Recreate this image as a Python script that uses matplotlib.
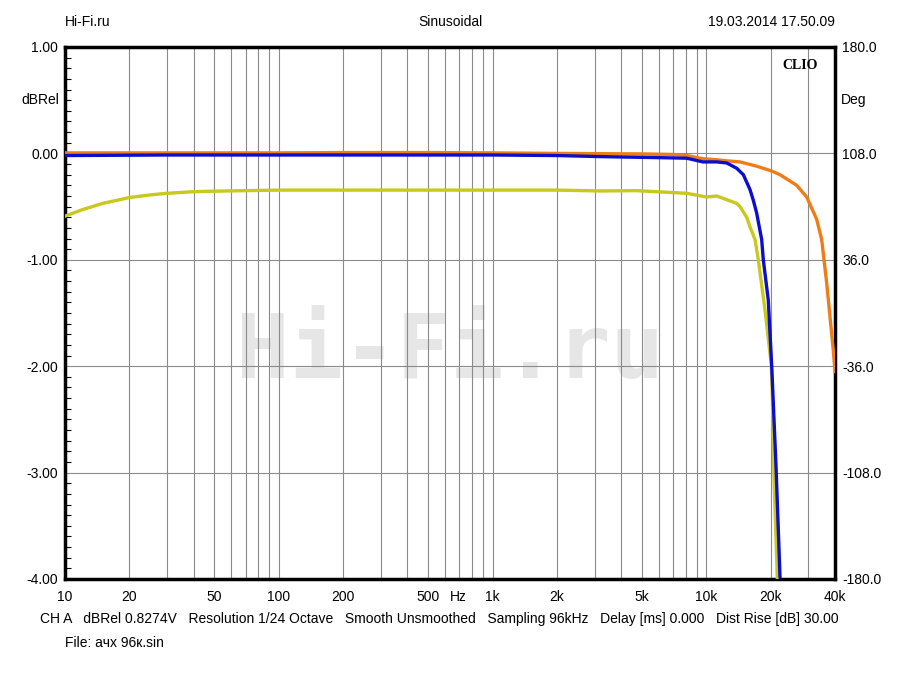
import matplotlib
matplotlib.use("Agg")
import matplotlib.pyplot as plt
import numpy as np
from matplotlib.ticker import MultipleLocator, NullLocator

plt.rcParams['font.family'] = ['Liberation Sans', 'DejaVu Sans']

# response curves (frequency in Hz, level in dBRel)
freq_orange = [10, 20, 50, 100, 200, 500, 1000, 2000, 5000, 7000, 8100, 9650,
               11180, 12460, 14380, 17200, 20180, 22120, 26480, 29490, 32840,
               34660, 36580, 39270, 40000]
db_orange = [0.005, 0.005, 0.005, 0.005, 0.008, 0.008, 0.005, 0.0, -0.005, -0.01,
             -0.02, -0.05, -0.06, -0.07, -0.08, -0.12, -0.165, -0.2, -0.3, -0.41,
             -0.62, -0.81, -1.22, -1.85, -2.05]

freq_yellow = [10, 12, 15, 20, 25, 30, 40, 50, 70, 100, 1000, 2000, 3200, 4725,
               8092, 10040, 11180, 13880, 14380, 15450, 16010, 16900, 17510,
               18810, 20180, 20400, 20730, 21500]
db_yellow = [-0.59, -0.53, -0.47, -0.415, -0.39, -0.375, -0.36, -0.355, -0.35,
             -0.345, -0.345, -0.345, -0.353, -0.35, -0.375, -0.41, -0.40, -0.47,
             -0.50, -0.6, -0.69, -0.81, -1.0, -1.47, -2.0, -2.32, -3.04, -4.0]

freq_blue = [10, 30, 100, 1000, 2000, 3181, 6072, 8092, 9650, 11180, 12460, 13880,
             14900, 16010, 16590, 17200, 18160, 18480, 19500, 20230, 21190, 22120]
db_blue = [-0.02, -0.015, -0.015, -0.015, -0.02, -0.03, -0.04, -0.045, -0.08,
           -0.08, -0.09, -0.14, -0.2, -0.34, -0.44, -0.56, -0.81, -1.0, -1.38,
           -2.0, -2.94, -3.98]

xticks = [10, 20, 50, 100, 200, 500, 1000, 2000, 5000, 10000, 20000, 40000]
xlabels = ['10', '20', '50', '100', '200', '500', '1k', '2k', '5k', '10k', '20k', '40k']
yticks = [-4, -3, -2, -1, 0, 1]
deg_ticks = [-180, -108, -36, 36, 108, 180]

fig = plt.figure(figsize=(9, 6.75), dpi=100)
ax = fig.add_axes([65/900, 1 - 579/675, 770/900, 532/675])

# watermark
ax.text(0.5, 0.425, 'Hi-Fi.ru', transform=ax.transAxes, ha='center', va='center',
        fontsize=64, family='DejaVu Sans Mono', fontweight='bold',
        color='#e6e6e6', zorder=0)

ax.plot(freq_orange, db_orange, color='#f07c18', lw=2.4, zorder=3)
ax.plot(freq_yellow, db_yellow, color='#c9c81e', lw=2.4, zorder=3)
ax.plot(freq_blue, db_blue, color='#0d0dcc', lw=2.4, zorder=4)

ax.set_xscale('log')
ax.set_xlim(10, 40000)
ax.set_ylim(-4, 1)

# grid: every decade step, and each dB
grid_f = [m * 10**d for d in range(1, 5) for m in range(1, 10) if m * 10**d <= 40000]
for f in grid_f:
    ax.axvline(f, color='#8a8a8a', lw=0.8, zorder=1)
for y in yticks:
    ax.axhline(y, color='#8a8a8a', lw=0.8, zorder=1)

ax.set_xticks(xticks)
ax.set_xticklabels(xlabels)
ax.xaxis.set_minor_locator(NullLocator())
ax.set_yticks(yticks)
ax.set_yticklabels(['%.2f' % v for v in yticks])
ax.yaxis.set_minor_locator(MultipleLocator(0.1))
ax.tick_params(axis='x', which='both', length=0, pad=8, labelsize=10)
ax.tick_params(axis='y', which='major', length=0, pad=5, labelsize=10)
ax.tick_params(axis='y', which='minor', direction='in', left=True, right=True,
               length=4, width=0.8)
for s in ax.spines.values():
    s.set_linewidth(2.5)

ax.annotate('Hz', xy=(690, -4), xytext=(0, -8), textcoords='offset points',
            ha='center', va='top', fontsize=10)

ax2 = ax.twinx()
ax2.set_ylim(-180, 180)
ax2.set_yticks(deg_ticks)
ax2.set_yticklabels(['%.1f' % v for v in deg_ticks])
ax2.tick_params(axis='y', length=0, pad=5, labelsize=10)
for s in ax2.spines.values():
    s.set_visible(False)

ax.text(-0.007, 0.5, 'dBRel', transform=ax.get_yaxis_transform(),
        ha='right', va='center', fontsize=10)
ax.text(1.007, 0.5, 'Deg', transform=ax.get_yaxis_transform(),
        ha='left', va='center', fontsize=10)
ax.text(0.955, 0.978, 'CLIO', transform=ax.transAxes, ha='center', va='top',
        fontsize=10, fontweight='bold', family='Liberation Serif')

fig.text(65/900, 1 - 22/675, 'Hi-Fi.ru', ha='left', va='center', fontsize=10)
fig.text(450/900, 1 - 22/675, 'Sinusoidal', ha='center', va='center', fontsize=10)
fig.text(835/900, 1 - 22/675, '19.03.2014 17.50.09', ha='right', va='center', fontsize=10)

fig.text(40/900, 1 - 619/675,
         'CH A   dBRel 0.8274V   Resolution 1/24 Octave   Smooth Unsmoothed   '
         'Sampling 96kHz   Delay [ms] 0.000   Dist Rise [dB] 30.00',
         ha='left', va='center', fontsize=10)
fig.text(65/900, 1 - 643/675, 'File: ачх 96к.sin', ha='left', va='center', fontsize=10)

fig.savefig('out.png', dpi=100)
